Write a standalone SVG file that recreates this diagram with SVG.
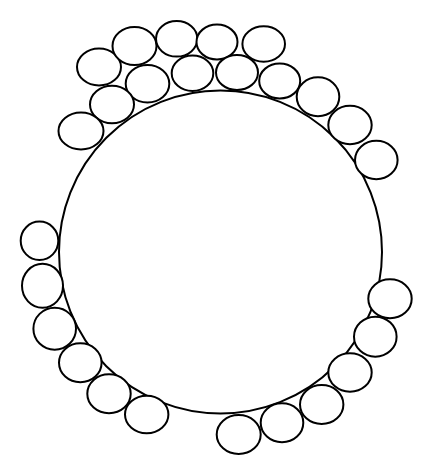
<svg xmlns="http://www.w3.org/2000/svg" width="433" height="475" viewBox="0 0 433 475">
<style>
.s{fill:none;stroke:#000;stroke-width:2}
.e{fill:#fff;stroke:#000;stroke-width:2}
</style>
<rect width="433" height="475" fill="#fff"/>
<g id="big"><circle class="s" cx="220.5" cy="252" r="161.5"/></g>
<g id="small">
<ellipse class="e" cx="99" cy="67" rx="22" ry="18.5"/>
<ellipse class="e" cx="134.5" cy="46" rx="22" ry="19"/>
<ellipse class="e" cx="176.7" cy="38.8" rx="20.7" ry="17.8"/>
<ellipse class="e" cx="217" cy="42" rx="20.5" ry="17.5"/>
<ellipse class="e" cx="263.7" cy="44" rx="21.3" ry="17.8"/>
<ellipse class="e" cx="147.5" cy="83.7" rx="21.8" ry="18.7"/>
<ellipse class="e" cx="192.5" cy="73.3" rx="20.8" ry="17.7"/>
<ellipse class="e" cx="237" cy="72.5" rx="21" ry="17.5"/>
<ellipse class="e" cx="279.7" cy="81" rx="20.5" ry="17.5"/>
<ellipse class="e" cx="112" cy="104.5" rx="22" ry="18.8"/>
<ellipse class="e" cx="81" cy="131" rx="22.5" ry="18.5"/>
<ellipse class="e" cx="318" cy="96.7" rx="21.3" ry="19.5"/>
<ellipse class="e" cx="350" cy="125" rx="21.7" ry="19.2"/>
<ellipse class="e" cx="376.3" cy="160" rx="21.3" ry="19.2"/>
<ellipse class="e" cx="39.5" cy="240.8" rx="18.8" ry="19.2"/>
<ellipse class="e" cx="42.5" cy="285.8" rx="20.5" ry="22"/>
<ellipse class="e" cx="54.7" cy="328.7" rx="21.3" ry="21"/>
<ellipse class="e" cx="80.3" cy="362.8" rx="21.3" ry="19.5"/>
<ellipse class="e" cx="109" cy="393.8" rx="21.7" ry="19.5"/>
<ellipse class="e" cx="146.7" cy="414.5" rx="21.7" ry="18.8"/>
<ellipse class="e" cx="390" cy="298.8" rx="21.7" ry="19.5"/>
<ellipse class="e" cx="375.3" cy="336.7" rx="21.3" ry="20"/>
<ellipse class="e" cx="350" cy="372.5" rx="21.7" ry="19.2"/>
<ellipse class="e" cx="321.7" cy="404.5" rx="21.7" ry="19.5"/>
<ellipse class="e" cx="282" cy="422.8" rx="21.3" ry="19.5"/>
<ellipse class="e" cx="238.7" cy="434.5" rx="22" ry="19.5"/>
</g>
</svg>
